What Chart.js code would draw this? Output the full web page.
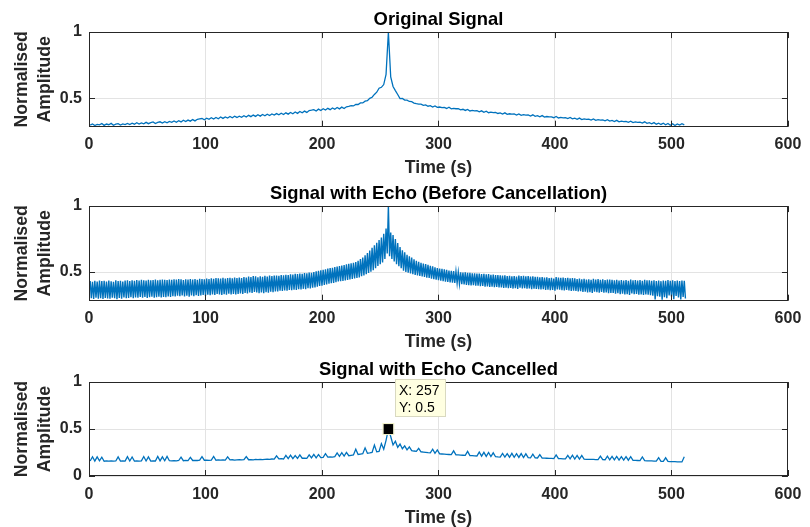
<!DOCTYPE html>
<html>
<head>
<meta charset="utf-8">
<script src="https://cdn.jsdelivr.net/npm/chart.js@4.4.0/dist/chart.umd.min.js"></script>
<style>
  html, body { margin: 0; padding: 0; background: #fff; overflow: hidden; width: 810px; height: 527px; }
  canvas { position: absolute; left: 0; }
</style>
</head>
<body>
<canvas id="c1" width="810" height="190" style="top:0px;width:810px;height:190px"></canvas>
<canvas id="c2" width="810" height="190" style="top:174px;width:810px;height:190px"></canvas>
<canvas id="c3" width="810" height="190" style="top:350px;width:810px;height:190px"></canvas>
<script>
// sampling grids of the signals (seconds)
var t0 = 1;
var dt = 2;      // original and cancelled signals
var echoDt = 1;  // echo signal

var xTicks = [0, 100, 200, 300, 400, 500, 600];
var yTicksTop = [0.5, 1];
var yTicksBottom = [0, 0.5, 1];

var titles = ['Original Signal', 'Signal with Echo (Before Cancellation)', 'Signal with Echo Cancelled'];

var originalSignal = [
  0.296,0.305,0.293,0.302,0.298,0.308,0.294,0.304,0.299,0.309,0.295,0.303,0.307,0.297,0.305,0.300,
  0.309,0.300,0.311,0.303,0.314,0.304,0.313,0.306,0.317,0.307,0.315,0.320,0.308,0.316,0.321,0.312,
  0.322,0.313,0.324,0.317,0.328,0.318,0.329,0.320,0.333,0.323,0.334,0.326,0.338,0.328,0.340,0.343,
  0.346,0.336,0.348,0.340,0.352,0.342,0.354,0.344,0.357,0.347,0.358,0.350,0.361,0.351,0.363,0.354,
  0.364,0.355,0.367,0.357,0.370,0.360,0.372,0.362,0.374,0.364,0.377,0.367,0.379,0.369,0.381,0.372,
  0.383,0.374,0.386,0.376,0.389,0.379,0.392,0.382,0.395,0.385,0.399,0.389,0.402,0.392,0.406,0.409,
  0.413,0.403,0.417,0.407,0.420,0.410,0.423,0.413,0.426,0.416,0.429,0.419,0.432,0.422,0.435,0.438,
  0.443,0.441,0.452,0.452,0.464,0.464,0.477,0.481,0.499,0.507,0.528,0.545,0.575,0.582,0.603,0.680,
  1.000,0.660,0.588,0.557,0.528,0.497,0.498,0.485,0.485,0.475,0.473,0.463,0.458,0.455,0.455,0.446,
  0.449,0.439,0.443,0.433,0.441,0.430,0.433,0.429,0.430,0.422,0.431,0.419,0.423,0.420,0.420,0.412,
  0.416,0.407,0.415,0.403,0.407,0.404,0.405,0.396,0.404,0.393,0.401,0.390,0.394,0.391,0.392,0.384,
  0.389,0.380,0.389,0.378,0.382,0.379,0.380,0.372,0.381,0.370,0.375,0.372,0.373,0.365,0.374,0.363,
  0.367,0.359,0.368,0.357,0.361,0.358,0.359,0.352,0.361,0.350,0.354,0.351,0.352,0.345,0.354,0.343,
  0.348,0.340,0.349,0.338,0.343,0.340,0.341,0.334,0.343,0.332,0.337,0.334,0.335,0.328,0.337,0.326,
  0.331,0.323,0.332,0.321,0.326,0.323,0.324,0.317,0.326,0.315,0.320,0.317,0.318,0.311,0.321,0.309,
  0.314,0.306,0.315,0.303,0.311,0.301,0.310,0.298,0.308,0.295,0.306,0.293,0.305,0.296,0.307,0.298
];

var echoSignal = [
  0.432,0.301,0.427,0.296,0.434,0.305,0.429,0.299,0.436,0.302,0.431,0.297,0.433,0.304,0.428,0.300,
  0.435,0.298,0.430,0.306,0.426,0.301,0.437,0.295,0.431,0.303,0.434,0.299,0.429,0.307,0.436,0.302,
  0.437,0.303,0.432,0.309,0.438,0.301,0.434,0.307,0.440,0.305,0.436,0.311,0.441,0.306,0.438,0.312,
  0.435,0.304,0.442,0.309,0.437,0.313,0.440,0.306,0.443,0.310,0.438,0.314,0.441,0.308,0.444,0.312,
  0.442,0.310,0.439,0.316,0.444,0.312,0.441,0.318,0.446,0.315,0.443,0.321,0.447,0.317,0.445,0.323,
  0.440,0.316,0.446,0.320,0.443,0.314,0.448,0.322,0.444,0.318,0.447,0.325,0.442,0.319,0.449,0.323,
  0.448,0.326,0.445,0.321,0.450,0.329,0.447,0.324,0.453,0.331,0.449,0.327,0.455,0.334,0.452,0.330,
  0.450,0.326,0.456,0.333,0.451,0.329,0.454,0.336,0.457,0.331,0.452,0.335,0.458,0.330,0.455,0.334,
  0.458,0.338,0.455,0.334,0.462,0.342,0.459,0.337,0.466,0.346,0.462,0.341,0.470,0.350,0.467,0.346,
  0.461,0.340,0.468,0.345,0.464,0.339,0.471,0.348,0.466,0.344,0.473,0.351,0.469,0.347,0.474,0.353,
  0.474,0.354,0.471,0.358,0.477,0.356,0.475,0.361,0.480,0.359,0.478,0.364,0.483,0.362,0.481,0.367,
  0.486,0.365,0.484,0.370,0.489,0.368,0.487,0.373,0.492,0.371,0.490,0.377,0.496,0.375,0.494,0.382,
  0.501,0.383,0.506,0.389,0.510,0.394,0.514,0.397,0.517,0.403,0.521,0.407,0.526,0.412,0.530,0.415,
  0.533,0.418,0.538,0.423,0.542,0.428,0.546,0.430,0.549,0.432,0.554,0.437,0.558,0.440,0.562,0.444,
  0.566,0.447,0.570,0.451,0.575,0.455,0.585,0.460,0.598,0.468,0.610,0.474,0.628,0.483,0.645,0.493,
  0.664,0.503,0.684,0.514,0.703,0.530,0.722,0.546,0.742,0.560,0.762,0.573,0.790,0.600,0.830,0.640,
  1.000,0.620,0.800,0.600,0.780,0.580,0.750,0.560,0.720,0.545,0.690,0.530,0.665,0.510,0.650,0.500,
  0.630,0.495,0.620,0.490,0.610,0.484,0.597,0.478,0.585,0.474,0.578,0.470,0.570,0.466,0.565,0.463,
  0.560,0.458,0.555,0.455,0.548,0.450,0.543,0.446,0.536,0.442,0.531,0.439,0.527,0.435,0.524,0.431,
  0.521,0.428,0.517,0.426,0.512,0.422,0.510,0.419,0.508,0.417,0.504,0.416,0.499,0.411,0.498,0.409,
  0.497,0.406,0.499,0.403,0.494,0.401,0.495,0.399,0.490,0.400,0.491,0.396,0.488,0.397,0.489,0.393,
  0.485,0.394,0.486,0.390,0.483,0.391,0.484,0.388,0.480,0.389,0.481,0.385,0.477,0.387,0.478,0.384,
  0.476,0.384,0.473,0.380,0.475,0.382,0.470,0.377,0.472,0.379,0.468,0.375,0.470,0.377,0.466,0.372,
  0.474,0.381,0.469,0.376,0.471,0.378,0.467,0.374,0.469,0.376,0.465,0.371,0.468,0.374,0.464,0.372,
  0.464,0.371,0.461,0.368,0.463,0.370,0.458,0.365,0.460,0.367,0.455,0.362,0.457,0.364,0.451,0.359,
  0.462,0.369,0.459,0.366,0.456,0.363,0.458,0.361,0.454,0.364,0.456,0.360,0.453,0.357,0.455,0.358,
  0.452,0.357,0.447,0.353,0.450,0.356,0.445,0.349,0.448,0.352,0.443,0.346,0.446,0.348,0.441,0.342,
  0.449,0.351,0.444,0.347,0.447,0.344,0.442,0.349,0.445,0.343,0.440,0.346,0.443,0.340,0.444,0.341,
  0.442,0.341,0.438,0.336,0.441,0.339,0.436,0.333,0.440,0.336,0.435,0.330,0.439,0.333,0.434,0.327,
  0.443,0.338,0.437,0.332,0.440,0.335,0.436,0.329,0.439,0.331,0.434,0.326,0.441,0.330,0.437,0.328,
  0.438,0.325,0.433,0.320,0.437,0.292,0.432,0.318,0.436,0.314,0.431,0.290,0.435,0.310,0.433,0.302,
  0.439,0.322,0.434,0.316,0.437,0.295,0.432,0.319,0.436,0.308,0.431,0.293,0.435,0.311,0.433,0.300
];

var cancelledSignal = [
  0.160,0.205,0.158,0.203,0.161,0.200,0.157,0.162,0.159,0.161,0.158,0.160,0.204,0.159,0.161,0.158,
  0.206,0.160,0.202,0.158,0.161,0.159,0.162,0.207,0.160,0.203,0.159,0.162,0.160,0.208,0.161,0.204,
  0.162,0.209,0.163,0.161,0.164,0.162,0.165,0.200,0.163,0.166,0.164,0.199,0.165,0.167,0.165,0.168,
  0.205,0.168,0.170,0.167,0.169,0.208,0.168,0.171,0.169,0.172,0.170,0.203,0.171,0.173,0.170,0.172,
  0.173,0.171,0.174,0.206,0.173,0.175,0.172,0.176,0.174,0.177,0.175,0.178,0.180,0.177,0.181,0.179,
  0.215,0.182,0.184,0.181,0.220,0.185,0.222,0.186,0.218,0.188,0.224,0.189,0.191,0.188,0.226,0.192,
  0.230,0.194,0.229,0.196,0.199,0.238,0.201,0.204,0.202,0.206,0.245,0.209,0.248,0.212,0.252,0.216,
  0.220,0.224,0.285,0.229,0.233,0.237,0.300,0.243,0.247,0.252,0.330,0.257,0.262,0.345,0.285,0.380,
  0.500,0.420,0.330,0.370,0.305,0.340,0.290,0.320,0.278,0.310,0.270,0.266,0.263,0.295,0.258,0.255,
  0.252,0.249,0.247,0.285,0.242,0.278,0.236,0.234,0.232,0.230,0.229,0.227,0.268,0.225,0.224,0.222,
  0.221,0.219,0.262,0.217,0.216,0.214,0.213,0.255,0.211,0.252,0.209,0.250,0.207,0.247,0.205,0.203,
  0.202,0.240,0.201,0.238,0.200,0.241,0.199,0.237,0.198,0.239,0.196,0.236,0.195,0.194,0.232,0.193,
  0.192,0.228,0.191,0.190,0.189,0.188,0.187,0.186,0.225,0.185,0.184,0.183,0.182,0.220,0.182,0.222,
  0.181,0.219,0.180,0.218,0.179,0.178,0.177,0.177,0.176,0.175,0.175,0.212,0.174,0.173,0.211,0.172,
  0.209,0.171,0.208,0.170,0.207,0.169,0.206,0.168,0.205,0.167,0.166,0.165,0.164,0.203,0.163,0.162,
  0.161,0.160,0.159,0.158,0.196,0.157,0.156,0.194,0.155,0.154,0.153,0.152,0.151,0.151,0.150,0.205
];

// data tip shown on the third plot
var tipX = 257;
var tipY = 0.5;

var FONT = '"Liberation Sans", Arial, Helvetica, sans-serif';
var TXT = '#262626';
var LINE = '#0072BD';

function toPoints(values, step){
  return values.map(function(v, i){ return {x: t0 + i * step, y: v}; });
}

// MATLAB style box: frame all round and small ticks pointing inwards
var boxPlugin = {
  id: 'matlabBox',
  afterDraw: function(chart){
    var ctx = chart.ctx, a = chart.chartArea;
    var x = chart.scales.x, y = chart.scales.y;
    ctx.save();
    ctx.strokeStyle = TXT;
    ctx.lineWidth = 1;
    ctx.beginPath();
    x.ticks.forEach(function(t){
      var px = Math.round(x.getPixelForValue(t.value)) + 0.5;
      ctx.moveTo(px, a.bottom); ctx.lineTo(px, a.bottom - 6);
      ctx.moveTo(px, a.top); ctx.lineTo(px, a.top + 6);
    });
    y.ticks.forEach(function(t){
      var py = Math.round(y.getPixelForValue(t.value)) + 0.5;
      ctx.moveTo(a.left, py); ctx.lineTo(a.left + 6, py);
      ctx.moveTo(a.right, py); ctx.lineTo(a.right - 6, py);
    });
    ctx.stroke();
    ctx.strokeRect(Math.round(a.left) + 0.5, Math.round(a.top) + 0.5, Math.round(a.width) - 1, Math.round(a.height) - 1);
    ctx.restore();
  }
};

var tipPlugin = {
  id: 'dataTip',
  afterDraw: function(chart){
    if (!chart.options.plugins.dataTip.show) return;
    var ctx = chart.ctx;
    var mx = chart.scales.x.getPixelForValue(tipX);
    var my = chart.scales.y.getPixelForValue(tipY);
    ctx.save();
    ctx.fillStyle = '#000';
    ctx.fillRect(mx - 5, my - 5, 10, 10);
    ctx.strokeStyle = '#f2f2c8';
    ctx.lineWidth = 1;
    ctx.strokeRect(mx - 5.5, my - 5.5, 11, 11);
    var bx = Math.round(mx) + 7.5, by = Math.round(my) - 49.5, bw = 50, bh = 37;
    ctx.fillStyle = '#ffffe1';
    ctx.fillRect(bx, by, bw, bh);
    ctx.strokeStyle = '#d9d9c0';
    ctx.strokeRect(bx, by, bw, bh);
    ctx.fillStyle = '#000';
    ctx.font = '14px ' + FONT;
    ctx.textBaseline = 'middle';
    ctx.fillText('X: ' + tipX, bx + 3.5, by + 12);
    ctx.fillText('Y: ' + tipY, bx + 3.5, by + 29);
    ctx.restore();
  }
};

function makeChart(id, title, values, step, lineWidth, yMin, yTicks, xHeight, showTip){
  return new Chart(document.getElementById(id), {
    type: 'line',
    data: {
      datasets: [{
        data: toPoints(values, step),
        borderColor: LINE,
        borderWidth: lineWidth,
        pointRadius: 0,
        tension: 0,
        fill: false
      }]
    },
    options: {
      responsive: false,
      animation: false,
      events: [],
      layout: { padding: { left: 0, right: 22, top: 0, bottom: 0 } },
      plugins: {
        legend: { display: false },
        tooltip: { enabled: false },
        dataTip: { show: showTip },
        title: {
          display: true,
          text: title,
          fullSize: false,
          color: '#000',
          font: { family: FONT, size: 18.4, weight: 'bold', lineHeight: 1.2 },
          padding: { top: 8.4, bottom: 1.6 }
        }
      },
      scales: {
        x: {
          type: 'linear',
          min: 0,
          max: 600,
          afterBuildTicks: function(s){ s.ticks = xTicks.map(function(v){ return {value: v}; }); },
          afterFit: function(s){ s.height = xHeight; },
          ticks: { color: TXT, padding: 8.7, maxRotation: 0, autoSkip: false,
                   callback: function(v){ return String(v); },
                   font: { family: FONT, size: 16, weight: 'bold' } },
          grid: { color: '#e3e3e3', drawTicks: false },
          border: { display: false },
          title: { display: true, text: 'Time (s)', color: TXT,
                   font: { family: FONT, size: 17.7, weight: 'bold', lineHeight: 1.2 },
                   padding: { top: 0, bottom: 11.4 } }
        },
        y: {
          type: 'linear',
          min: yMin,
          max: 1,
          afterBuildTicks: function(s){ s.ticks = yTicks.map(function(v){ return {value: v}; }); },
          afterFit: function(s){ s.width = 89; },
          ticks: { color: TXT, padding: 7, autoSkip: false,
                   callback: function(v){ return String(v); },
                   font: { family: FONT, size: 16, weight: 'bold' } },
          grid: { color: '#e3e3e3', drawTicks: false },
          border: { display: false },
          title: { display: true, text: ['Normalised', 'Amplitude'], color: TXT,
                   font: { family: FONT, size: 17.7, weight: 'bold', lineHeight: 1.32 },
                   padding: { top: 10, bottom: 0 } }
        }
      }
    },
    plugins: [boxPlugin, tipPlugin]
  });
}

makeChart('c1', titles[0], originalSignal, dt, 1.3, 0.284, yTicksTop, 63.3, false);
makeChart('c2', titles[1], echoSignal, echoDt, 1.4, 0.283, yTicksTop, 63.3, false);
makeChart('c3', titles[2], cancelledSignal, dt, 1.3, 0, yTicksBottom, 64, true);
</script>
</body>
</html>
